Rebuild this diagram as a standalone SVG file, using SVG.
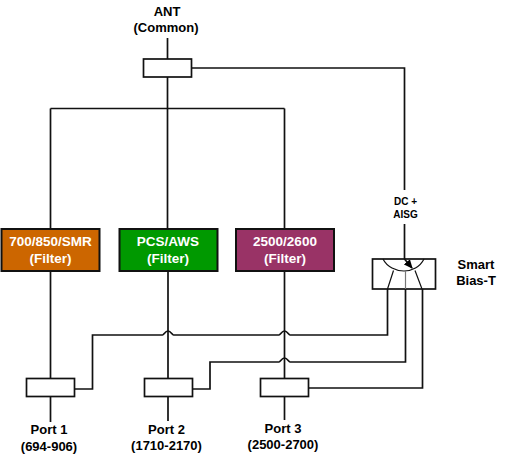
<svg xmlns="http://www.w3.org/2000/svg" width="507" height="462" viewBox="0 0 507 462">
<style>
text{font-family:"Liberation Sans",Arial,sans-serif;font-weight:bold;font-size:13px;text-anchor:middle;fill:#000}
.w{fill:#fff;font-size:13.500px}
.s{font-size:10px}
.c{fill:none;stroke:#111;stroke-width:1.700}
.b{fill:#fff;stroke:#111;stroke-width:1.700}
.f{stroke:#111;stroke-width:2}
</style>
<defs><marker id="a" markerWidth="9" markerHeight="8" refX="8" refY="4" orient="auto" markerUnits="userSpaceOnUse"><path d="M0 0L9 4L0 8Z" fill="#000"/></marker></defs>
<rect width="507" height="462" fill="#fff"/>
<g id="connectors">
<path class="c" d="M167.500 38V108M167.500 77V228M50.500 108.500H284.500M50.500 108.500V229M284.500 108.500V229"/>
<path class="c" d="M50.500 271V378M168 271V378M284.500 271V378"/>
<path class="c" d="M50.500 396V422M168 396V421M284.500 396V420"/>
<path class="c" d="M191.500 68H404.500V190M404.500 224V259"/>
<path class="c" d="M74.500 389H92.500V335H162.500C164 335 165 331 168 331C171 331 172 335 173.500 335H279C280.500 335 281.500 331 284.500 331C287.500 331 288.500 335 290 335H387.500V289"/>
<path class="c" d="M192 389H210V362H279C280.500 362 281.500 358 284.500 358C287.500 358 288.500 362 290 362H405.500V289"/>
<path class="c" d="M308.500 388H422.500V289"/>
</g>
<g id="ant"><rect class="b" x="143.500" y="59" width="48" height="18"/><text x="167" y="16">ANT</text><text x="166" y="32">(Common)</text></g>
<g id="filter1"><rect class="f" x="1.500" y="229" width="98" height="42" fill="#cc6600"/><text class="w" x="50.500" y="246">700/850/SMR</text><text class="w" x="50.500" y="263">(Filter)</text></g>
<g id="filter2"><rect class="f" x="119.500" y="229" width="98" height="42" fill="#009900"/><text class="w" x="168" y="246">PCS/AWS</text><text class="w" x="168" y="263">(Filter)</text></g>
<g id="filter3"><rect class="f" x="236" y="229" width="98" height="42" fill="#993366"/><text class="w" x="285" y="246">2500/2600</text><text class="w" x="285" y="263">(Filter)</text></g>
<g id="bias-t">
<rect class="b" x="372.500" y="259" width="63" height="30"/>
<path d="M383 259C387 267 396 271 404 271C412 271 420 267 424 259" fill="none" stroke="#111" stroke-width="1.200"/>
<path d="M393.500 270.500L387.500 289M415 270.500L422 289" fill="none" stroke="#111" stroke-width="1.200"/>
<path d="M405.500 271V289" fill="none" stroke="#777" stroke-width="1.200"/>
<path d="M404.500 259L412 268" class="c" marker-end="url(#a)"/>
<text x="476" y="269">Smart</text><text x="476" y="285">Bias-T</text>
</g>
<g id="dc-label"><text class="s" x="405.500" y="205">DC +</text><text class="s" x="405.500" y="218">AISG</text></g>
<g id="port1"><rect class="b" x="26.500" y="378.500" width="48" height="18"/><text x="49" y="434">Port 1</text><text x="49" y="451">(694-906)</text></g>
<g id="port2"><rect class="b" x="144.500" y="378.500" width="48" height="18"/><text x="166.500" y="434">Port 2</text><text x="166.500" y="450">(1710-2170)</text></g>
<g id="port3"><rect class="b" x="260.500" y="378.500" width="48" height="18"/><text x="283" y="433">Port 3</text><text x="283" y="449">(2500-2700)</text></g>
</svg>
